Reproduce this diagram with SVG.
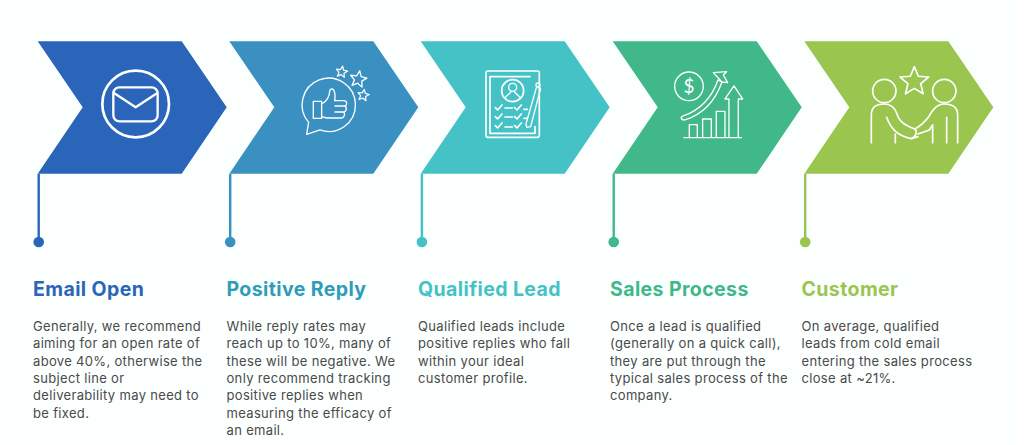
<svg xmlns="http://www.w3.org/2000/svg" width="1024" height="445" viewBox="0 0 1024 445">
<style>
.t{font-family:"Inter","Liberation Sans",sans-serif;font-weight:700;font-size:19.500px;letter-spacing:.4px}
.b{font-family:"Inter","Liberation Sans",sans-serif;font-size:13px;letter-spacing:.33px;fill:#4a4a4a}
.i{fill:none;stroke:#fff;stroke-linecap:round;stroke-linejoin:round}
</style>
<defs>
<polygon id="star" points="0,-1 .265,-.364 .951,-.309 .428,.139 .588,.809 0,.45 -.588,.809 -.428,.139 -.951,-.309 -.265,-.364"/>
<polygon id="chev" points="0,0 144,0 189,66 144,132.500 0,132.500 45,66"/>
</defs>
<rect width="1024" height="445" fill="#fff"/>
<rect width="1015" height="445" fill="#fbfffe"/>
<g id="connectors" fill="none" stroke-width="2.400">
<path d="M38.700 174V242" stroke="#2b65ba"/>
<path d="M230.200 174V242" stroke="#3b90c2"/>
<path d="M421.900 174V242" stroke="#45c2c6"/>
<path d="M613.700 174V242" stroke="#40b88a"/>
<path d="M805.200 174V242" stroke="#9ac650"/>
<circle cx="38.700" cy="242" r="5.300" fill="#2b65ba" stroke="none"/>
<circle cx="230.200" cy="242" r="5.300" fill="#3b90c2" stroke="none"/>
<circle cx="421.900" cy="242" r="5.300" fill="#45c2c6" stroke="none"/>
<circle cx="613.700" cy="242" r="5.300" fill="#40b88a" stroke="none"/>
<circle cx="805.200" cy="242" r="5.300" fill="#9ac650" stroke="none"/>
</g>
<g id="email-open">
<use href="#chev" x="37.700" y="41.300" fill="#2b65ba"/>
<g transform="translate(20 30) scale(.3333)" class="i">
<circle cx="347" cy="222" r="100" stroke-width="8"/>
<rect x="280" y="172" width="133" height="102" rx="18" stroke-width="7"/>
<path d="M283 190L347 232L411 190" stroke-width="7"/>
</g>
<text class="t" x="33" y="296" fill="#2b65ba">Email Open</text>
<text class="b" x="33" y="331">Generally, we recommend</text>
<text class="b" x="33" y="348.300">aiming for an open rate of</text>
<text class="b" x="33" y="365.600">above 40%, otherwise the</text>
<text class="b" x="33" y="382.900">subject line or</text>
<text class="b" x="33" y="400.200">deliverability may need to</text>
<text class="b" x="33" y="417.500">be fixed.</text>
</g>
<g id="positive-reply">
<use href="#chev" x="229.300" y="41.300" fill="#3b90c2"/>
<g transform="translate(20 30) scale(.3333)" class="i" stroke-width="4">
<path d="M866 277A80 80 0 1 1 900 300L860 313Z"/>
<rect x="880" y="214" width="25" height="51"/>
<path d="M905 222C920 215 928 205 930 180C940 170 948 185 944 212H972C982 212 982 224 976 228C982 236 978 244 972 246C976 254 972 262 966 264H920L905 260"/>
<path d="M945 228H976M945 246H972"/>
<use href="#star" transform="translate(965 126) rotate(10) scale(18)" stroke-width=".2"/>
<use href="#star" transform="translate(1015 148) rotate(10) scale(26)" stroke-width=".15"/>
<use href="#star" transform="translate(1030 196) rotate(10) scale(18)" stroke-width=".2"/>
</g>
<text class="t" x="226.500" y="296" fill="#2f9cb9">Positive Reply</text>
<text class="b" x="226.500" y="331">While reply rates may</text>
<text class="b" x="226.500" y="348.300">reach up to 10%, many of</text>
<text class="b" x="226.500" y="365.600">these will be negative. We</text>
<text class="b" x="226.500" y="382.900">only recommend tracking</text>
<text class="b" x="226.500" y="400.200">positive replies when</text>
<text class="b" x="226.500" y="417.500">measuring the efficacy of</text>
<text class="b" x="226.500" y="434.800">an email.</text>
</g>
<g id="qualified-lead">
<use href="#chev" x="420.700" y="41.300" fill="#45c2c6"/>
<g transform="translate(410 30) scale(.3333)" class="i" stroke-width="5">
<rect x="228" y="123" width="160" height="199" rx="6"/>
<path d="M360 140H240V310H375V290"/>
<circle cx="308" cy="182" r="33"/>
<circle cx="308" cy="172" r="12" stroke-width="4"/>
<path d="M284 204C292 195 298 192 304 184M332 204C324 195 318 192 312 184" stroke-width="4"/>
<path d="M256 233L263 240L276 225M314 233L321 240L334 225M256 260L263 267L276 252M314 260L321 267L334 252M256 287L263 294L276 279M314 287L321 294L334 279"/>
<path d="M285 234H307M285 261H307M285 291H307M342 238H352M342 265H352"/>
<path d="M380 170L392 175L362 290L350 292L348 282Z" stroke-width="4"/>
<circle cx="384" cy="165" r="6" stroke-width="4"/>
</g>
<text class="t" x="418" y="296" fill="#45c2c6">Qualified Lead</text>
<text class="b" x="418" y="331">Qualified leads include</text>
<text class="b" x="418" y="348.300">positive replies who fall</text>
<text class="b" x="418" y="365.600">within your ideal</text>
<text class="b" x="418" y="382.900">customer profile.</text>
</g>
<g id="sales-process">
<use href="#chev" x="612.700" y="41.300" fill="#40b88a"/>
<g transform="translate(410 30) scale(.3333)" class="i" stroke-width="4">
<circle cx="837" cy="169" r="43"/>
<path d="M820 258C870 240 905 205 924 150L936 156L910 128L950 125L940 135L953 158L936 156C915 215 880 252 825 270C812 270 810 262 820 258Z"/>
<path d="M838 322V284H862V322M878 322V267H904V322M919 322V244H945V322M957 322V207H945L972 168L998 207H985V322M822 323H994"/>
</g>
<text x="689" y="93" font-family="Lato,'Liberation Sans',sans-serif" font-size="19" fill="#fff" text-anchor="middle">$</text>
<text class="t" x="610" y="296" fill="#40b88a">Sales Process</text>
<text class="b" x="610" y="331">Once a lead is qualified</text>
<text class="b" x="610" y="348.300">(generally on a quick call),</text>
<text class="b" x="610" y="365.600">they are put through the</text>
<text class="b" x="610" y="382.900">typical sales process of the</text>
<text class="b" x="610" y="400.200">company.</text>
</g>
<g id="customer">
<use href="#chev" x="804.300" y="41.300" fill="#9ac650"/>
<g transform="translate(790 30) scale(.3333)" class="i" stroke-width="5">
<use href="#star" transform="translate(373 155) scale(45)" stroke-width=".11"/>
<circle cx="283" cy="183" r="35"/>
<circle cx="463" cy="183" r="35"/>
<path d="M244 338V255C244 232 260 222 282 222C302 222 314 232 320 250C326 270 338 285 375 297C382 305 378 322 364 326C330 318 305 305 290 262"/>
<path d="M316 312V338"/>
<path d="M503 338V255C503 232 488 222 463 222C440 222 428 240 415 262C405 275 392 288 375 297M384 312L418 300L428 285V338M470 262V338"/>
<path d="M364 326L384 320"/>
</g>
<text class="t" x="801.500" y="296" fill="#9ac650">Customer</text>
<text class="b" x="801.500" y="331">On average, qualified</text>
<text class="b" x="801.500" y="348.300">leads from cold email</text>
<text class="b" x="801.500" y="365.600">entering the sales process</text>
<text class="b" x="801.500" y="382.900">close at ~21%.</text>
</g>
</svg>
